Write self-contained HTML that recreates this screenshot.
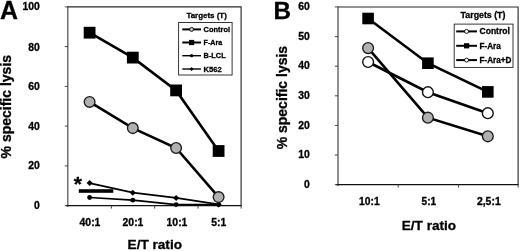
<!DOCTYPE html>
<html><head><meta charset="utf-8"><title>Figure</title>
<style>
html,body{margin:0;padding:0;background:#fff;}
body{width:520px;height:251px;overflow:hidden;}
svg{display:block;will-change:transform;}
text{font-family:"Liberation Sans",Arial,sans-serif;font-weight:bold;fill:#000;stroke:#000;stroke-width:0.3px;}
.tk{font-size:10.4px;}
.ax{font-size:13.3px;}
.pl{font-size:25.3px;}
.lgA{font-size:7.6px;}
.lgB{font-size:8.5px;}
</style></head><body>
<svg width="520" height="251" viewBox="0 0 520 251">
<rect width="520" height="251" fill="#fff"/>

<g id="panelA">
<text class="pl" x="-0.1" y="19.4" style="font-size:24.9px">A</text>
<path d="M67.9,6.8 H241.1 V205.6" fill="none" stroke="#2a2a2a" stroke-width="1.15"/>
<path d="M67.85,6.3 V207" fill="none" stroke="#2a2a2a" stroke-width="1"/><path d="M66,205.6 H241.7" fill="none" stroke="#111" stroke-width="1.3"/>
<path d="M64.8,205.6 H68" stroke="#333" stroke-width="0.9"/>
<text class="tk" x="39.9" y="209.3" text-anchor="end">0</text>
<path d="M64.8,165.9 H68" stroke="#333" stroke-width="0.9"/>
<text class="tk" x="39.9" y="168.9" text-anchor="end">20</text>
<path d="M64.8,126.1 H68" stroke="#333" stroke-width="0.9"/>
<text class="tk" x="39.9" y="129.8" text-anchor="end">40</text>
<path d="M64.8,86.4 H68" stroke="#333" stroke-width="0.9"/>
<text class="tk" x="39.9" y="90.1" text-anchor="end">60</text>
<path d="M64.8,46.6 H68" stroke="#333" stroke-width="0.9"/>
<text class="tk" x="39.9" y="51.0" text-anchor="end">80</text>
<path d="M64.8,6.9 H68" stroke="#333" stroke-width="0.9"/>
<text class="tk" x="39.9" y="10.0" text-anchor="end">100</text>
<path d="M111.4,205.6 V208.6" stroke="#333" stroke-width="0.9"/>
<path d="M154.7,205.6 V208.6" stroke="#333" stroke-width="0.9"/>
<path d="M198,205.6 V208.6" stroke="#333" stroke-width="0.9"/>
<path d="M241.1,205.6 V208.6" stroke="#333" stroke-width="0.9"/>
<text class="tk" style="font-size:10.4px" x="90" y="225.5" text-anchor="middle">40:1</text>
<text class="tk" style="font-size:10.4px" x="133" y="225.5" text-anchor="middle">20:1</text>
<text class="tk" style="font-size:10.4px" x="177" y="225.5" text-anchor="middle">10:1</text>
<text class="tk" style="font-size:10.4px" x="218.8" y="225.5" text-anchor="middle">5:1</text>
<text class="ax" x="154.8" y="249.4" text-anchor="middle" style="font-size:13.6px">E/T ratio</text>
<text class="ax" transform="translate(10.7,106.7) rotate(-90)" text-anchor="middle" style="font-size:14px">% specific lysis</text>
<polyline points="89.6,183.1 132.8,192.7 176.1,197.9 218.6,204.4" fill="none" stroke="#000" stroke-width="1.7"/>
<polyline points="89.6,197.5 132.8,200.2 176.1,204.6 218.6,204.6" fill="none" stroke="#000" stroke-width="1.7"/>
<path d="M86.6,183.1 L89.6,180.1 L92.6,183.1 L89.6,186.1Z" fill="#000"/>
<path d="M129.8,192.7 L132.8,189.7 L135.8,192.7 L132.8,195.7Z" fill="#000"/>
<path d="M173.1,197.9 L176.1,194.9 L179.1,197.9 L176.1,200.9Z" fill="#000"/>
<path d="M215.6,204.4 L218.6,201.4 L221.6,204.4 L218.6,207.4Z" fill="#000"/>
<circle cx="89.6" cy="197.5" r="2.4" fill="#000"/>
<circle cx="132.8" cy="200.2" r="2.4" fill="#000"/>
<circle cx="176.1" cy="204.6" r="2.4" fill="#000"/>
<circle cx="218.6" cy="204.6" r="2.4" fill="#000"/>
<rect x="78.8" y="189.2" width="34.5" height="3.6" fill="#000"/>
<text x="77.9" y="190.8" text-anchor="middle" style="font-size:21px">*</text>
<polyline points="89.6,32.7 132.8,57.6 176.1,90.4 218.6,151.0" fill="none" stroke="#000" stroke-width="2.6"/>
<polyline points="89.6,101.9 132.8,128.1 176.1,148.0 218.6,197.1" fill="none" stroke="#000" stroke-width="2.6"/>
<rect x="83.7" y="26.8" width="11.8" height="11.8" fill="#000"/>
<rect x="126.9" y="51.7" width="11.8" height="11.8" fill="#000"/>
<rect x="170.2" y="84.5" width="11.8" height="11.8" fill="#000"/>
<rect x="212.7" y="145.1" width="11.8" height="11.8" fill="#000"/>
<circle cx="89.6" cy="101.9" r="5.35" fill="#b0b0b0" stroke="#1a1a1a" stroke-width="1.35"/>
<circle cx="132.8" cy="128.1" r="5.35" fill="#b0b0b0" stroke="#1a1a1a" stroke-width="1.35"/>
<circle cx="176.1" cy="148.0" r="5.35" fill="#b0b0b0" stroke="#1a1a1a" stroke-width="1.35"/>
<circle cx="218.6" cy="197.1" r="5.35" fill="#b0b0b0" stroke="#1a1a1a" stroke-width="1.35"/>
<text class="lgA" x="206.6" y="18.3" text-anchor="middle" style="font-size:7.95px">Targets (T)</text>
<rect x="178.6" y="22.5" width="53.5" height="52.5" fill="#fff" stroke="#222" stroke-width="0.9"/>
<path d="M182.3,29.4 H201" stroke="#000" stroke-width="2.0"/>
<text class="lgA" x="203.6" y="32.1" textLength="26.4" lengthAdjust="spacingAndGlyphs">Control</text>
<path d="M182.3,42.5 H201" stroke="#000" stroke-width="2.0"/>
<text class="lgA" x="203.6" y="45.2" textLength="18.6" lengthAdjust="spacingAndGlyphs">F-Ara</text>
<path d="M182.3,55.7 H201" stroke="#000" stroke-width="1.4"/>
<text class="lgA" x="203.6" y="58.4" textLength="22.1" lengthAdjust="spacingAndGlyphs">B-LCL</text>
<path d="M182.3,69.0 H201" stroke="#000" stroke-width="1.4"/>
<text class="lgA" x="203.6" y="71.7" textLength="18.2" lengthAdjust="spacingAndGlyphs">K562</text>
<circle cx="191.6" cy="29.4" r="2" fill="#c8c8c8" stroke="#000" stroke-width="0.9"/>
<rect x="189.0" y="39.9" width="5.2" height="5.2" fill="#000"/>
<circle cx="191.6" cy="55.7" r="1.6" fill="#000"/>
<path d="M189.7,69.0 L191.6,67.1 L193.5,69.0 L191.6,70.9Z" fill="#000"/>
</g>
<g id="panelB">
<text class="pl" x="273.5" y="19.2" style="font-size:24.2px">B</text>
<path d="M338,6.95 H518.1 V184.6" fill="none" stroke="#2a2a2a" stroke-width="1.15"/>
<path d="M338,6.45 V186" fill="none" stroke="#444" stroke-width="1.2"/><path d="M336,184.6 H518.6" fill="none" stroke="#111" stroke-width="1.3"/>
<path d="M334.8,184.6 H338" stroke="#333" stroke-width="0.9"/>
<text class="tk" x="309.8" y="188.3" text-anchor="end">0</text>
<path d="M334.8,155.0 H338" stroke="#333" stroke-width="0.9"/>
<text class="tk" x="309.8" y="158.3" text-anchor="end">10</text>
<path d="M334.8,125.4 H338" stroke="#333" stroke-width="0.9"/>
<text class="tk" x="309.8" y="128.7" text-anchor="end">20</text>
<path d="M334.8,95.8 H338" stroke="#333" stroke-width="0.9"/>
<text class="tk" x="309.8" y="98.7" text-anchor="end">30</text>
<path d="M334.8,66.2 H338" stroke="#333" stroke-width="0.9"/>
<text class="tk" x="309.8" y="69.1" text-anchor="end">40</text>
<path d="M334.8,36.6 H338" stroke="#333" stroke-width="0.9"/>
<text class="tk" x="309.8" y="40.3" text-anchor="end">50</text>
<path d="M334.8,6.9 H338" stroke="#333" stroke-width="0.9"/>
<text class="tk" x="309.8" y="10.4" text-anchor="end">60</text>
<path d="M398.2,184.6 V187.6" stroke="#333" stroke-width="0.9"/>
<path d="M458.6,184.6 V187.6" stroke="#333" stroke-width="0.9"/>
<path d="M518.1,184.6 V187.6" stroke="#333" stroke-width="0.9"/>
<text class="tk" x="359.0" y="205.4" textLength="20.6" lengthAdjust="spacingAndGlyphs" style="font-size:10.1px">10:1</text>
<text class="tk" x="421.6" y="205.4" textLength="14.6" lengthAdjust="spacingAndGlyphs" style="font-size:10.1px">5:1</text>
<text class="tk" x="476.9" y="205.4" textLength="23.8" lengthAdjust="spacingAndGlyphs" style="font-size:10.1px">2,5:1</text>
<text class="ax" x="428.9" y="230.2" text-anchor="middle" style="font-size:13.6px">E/T ratio</text>
<text class="ax" transform="translate(286.8,97.6) rotate(-90)" text-anchor="middle" style="font-size:14px">% specific lysis</text>
<polyline points="368.1,18.5 427.9,63.2 487.8,91.9" fill="none" stroke="#000" stroke-width="2.6"/>
<polyline points="368.1,62.0 427.9,92.2 487.8,113.2" fill="none" stroke="#000" stroke-width="2.6"/>
<polyline points="368.1,48.1 427.9,117.7 487.8,136.3" fill="none" stroke="#000" stroke-width="2.6"/>
<rect x="362.3" y="12.7" width="11.6" height="11.6" fill="#000"/>
<rect x="422.1" y="57.4" width="11.6" height="11.6" fill="#000"/>
<rect x="482.0" y="86.1" width="11.6" height="11.6" fill="#000"/>
<circle cx="368.1" cy="48.1" r="5.4" fill="#b0b0b0" stroke="#1a1a1a" stroke-width="1.35"/>
<circle cx="427.9" cy="117.7" r="5.4" fill="#b0b0b0" stroke="#1a1a1a" stroke-width="1.35"/>
<circle cx="487.8" cy="136.3" r="5.4" fill="#b0b0b0" stroke="#1a1a1a" stroke-width="1.35"/>
<circle cx="368.1" cy="62.0" r="5.4" fill="#fff" stroke="#111" stroke-width="1.4"/>
<circle cx="427.9" cy="92.2" r="5.4" fill="#fff" stroke="#111" stroke-width="1.4"/>
<circle cx="487.8" cy="113.2" r="5.4" fill="#fff" stroke="#111" stroke-width="1.4"/>
<text class="lgB" x="483" y="17.6" text-anchor="middle" style="font-size:8.8px">Targets (T)</text>
<rect x="454.2" y="24.1" width="58.8" height="43.3" fill="#fff" stroke="#222" stroke-width="0.9"/>
<path d="M456.2,31.4 H477" stroke="#000" stroke-width="2.0"/>
<text class="lgB" x="479.5" y="34.4" textLength="30.4" lengthAdjust="spacingAndGlyphs">Control</text>
<path d="M456.2,45.8 H477" stroke="#000" stroke-width="2.0"/>
<text class="lgB" x="479.5" y="48.8" textLength="21.3" lengthAdjust="spacingAndGlyphs">F-Ara</text>
<path d="M456.2,60.1 H477" stroke="#000" stroke-width="2.0"/>
<text class="lgB" x="479.5" y="63.1" textLength="32.0" lengthAdjust="spacingAndGlyphs">F-Ara+D</text>
<circle cx="466.6" cy="31.4" r="2" fill="#fff" stroke="#000" stroke-width="0.9"/>
<rect x="464" y="43.199999999999996" width="5.2" height="5.2" fill="#000"/>
<circle cx="466.6" cy="60.1" r="2" fill="#fff" stroke="#000" stroke-width="0.9"/>
</g>
</svg></body></html>
